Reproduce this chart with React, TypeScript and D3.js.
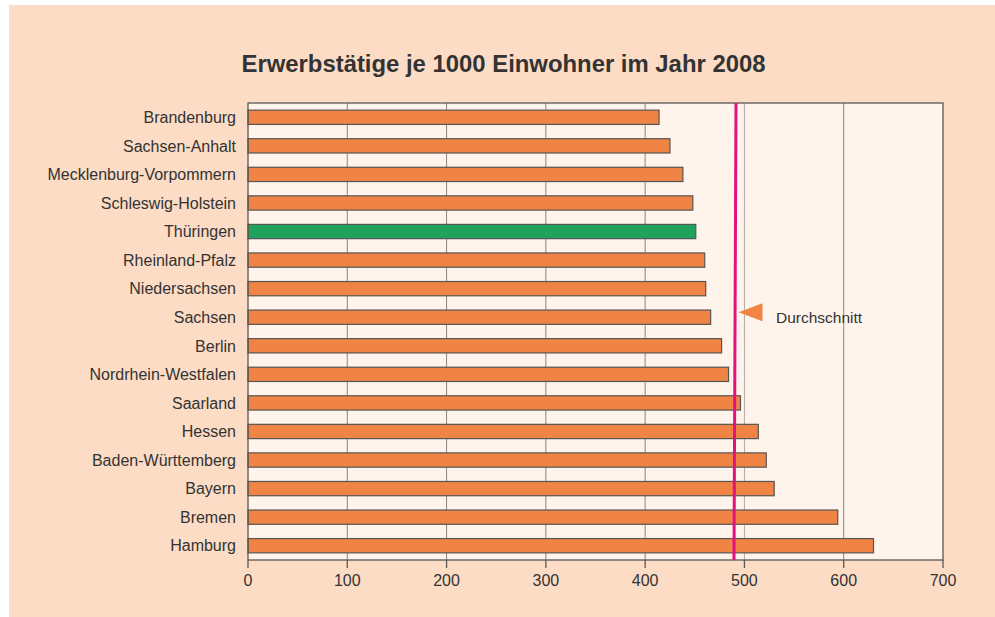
import React from "react";
import * as d3 from "d3";

const categories = [
  "Brandenburg",
  "Sachsen-Anhalt",
  "Mecklenburg-Vorpommern",
  "Schleswig-Holstein",
  "Thüringen",
  "Rheinland-Pfalz",
  "Niedersachsen",
  "Sachsen",
  "Berlin",
  "Nordrhein-Westfalen",
  "Saarland",
  "Hessen",
  "Baden-Württemberg",
  "Bayern",
  "Bremen",
  "Hamburg",
];
const values = [414, 425, 438, 448, 451, 460, 461, 466, 477, 484, 496, 514, 522, 530, 594, 630];
const highlighted = ["Thüringen"];
const average = 490;
const xTicks = [0, 100, 200, 300, 400, 500, 600, 700];
const title = "Erwerbstätige je 1000 Einwohner im Jahr 2008";
const averageLabel = "Durchschnitt";

const W = 995;
const H = 617;
const plot = { left: 248, right: 943, top: 103, bottom: 560 };
const FONT = "'Liberation Sans', Arial, Helvetica, sans-serif";

export default function App() {
  const x = d3.scaleLinear().domain([0, 700]).range([plot.left, plot.right]);
  const y = d3
    .scaleBand<string>()
    .domain(categories)
    .range([plot.top, plot.bottom])
    .paddingInner(0.5)
    .paddingOuter(0.25);
  const bh = y.bandwidth();
  const avgX = x(average);
  const sachsenY = (y("Sachsen") as number) + bh / 2;

  return (
    <svg
      width={W}
      height={H}
      style={{ position: "absolute", left: 0, top: 0, display: "block" }}
      fontFamily={FONT}
    >
      <rect x={0} y={0} width={W} height={H} fill="#ffffff" />
      <rect x={9} y={5} width={W - 9} height={H - 5} fill="#fcdcc5" />
      <text
        x={503.5}
        y={72}
        textAnchor="middle"
        fontSize={23}
        fontWeight="bold"
        fill="#333333"
        textLength={524}
        lengthAdjust="spacingAndGlyphs"
      >
        {title}
      </text>

      <rect
        x={plot.left}
        y={plot.top}
        width={plot.right - plot.left}
        height={plot.bottom - plot.top}
        fill="#fff4ec"
      />
      {xTicks.slice(1, -1).map((t) => (
        <line
          key={"g" + t}
          x1={x(t)}
          x2={x(t)}
          y1={plot.top}
          y2={plot.bottom}
          stroke={t === 500 ? "#b3aaa3" : "#8a8580"}
          strokeWidth={1}
        />
      ))}
      {categories.map((c, i) => (
        <rect
          key={c}
          x={x(0)}
          y={y(c) as number}
          width={x(values[i]) - x(0)}
          height={bh}
          fill={highlighted.includes(c) ? "#21a25c" : "#f08444"}
          stroke="#555555"
          strokeWidth={1.2}
        />
      ))}
      <rect
        x={plot.left}
        y={plot.top}
        width={plot.right - plot.left}
        height={plot.bottom - plot.top}
        fill="none"
        stroke="#5a5755"
        strokeWidth={1.3}
      />
      {categories.map((c) => (
        <text
          key={"l" + c}
          x={236}
          y={(y(c) as number) + bh / 2}
          dy="0.36em"
          textAnchor="end"
          fontSize={16}
          fill="#333333"
        >
          {c}
        </text>
      ))}
      {xTicks.map((t) => (
        <g key={"t" + t}>
          <line x1={x(t)} x2={x(t)} y1={plot.bottom} y2={plot.bottom + 8} stroke="#5a5755" strokeWidth={1.3} />
          <text x={x(t)} y={586} textAnchor="middle" fontSize={16} fill="#333333">
            {t}
          </text>
        </g>
      ))}

      <line x1={avgX + 1.5} x2={avgX - 0.5} y1={plot.top} y2={plot.bottom} stroke="#e5127d" strokeWidth={3} />
      <path
        d={`M${avgX + 4},${sachsenY - 5} L${avgX + 28},${sachsenY - 14} L${avgX + 28},${sachsenY + 4} Z`}
        fill="#f08444"
      />
      <text x={776} y={322.5} fontSize={15.5} fill="#333333">
        {averageLabel}
      </text>
    </svg>
  );
}
